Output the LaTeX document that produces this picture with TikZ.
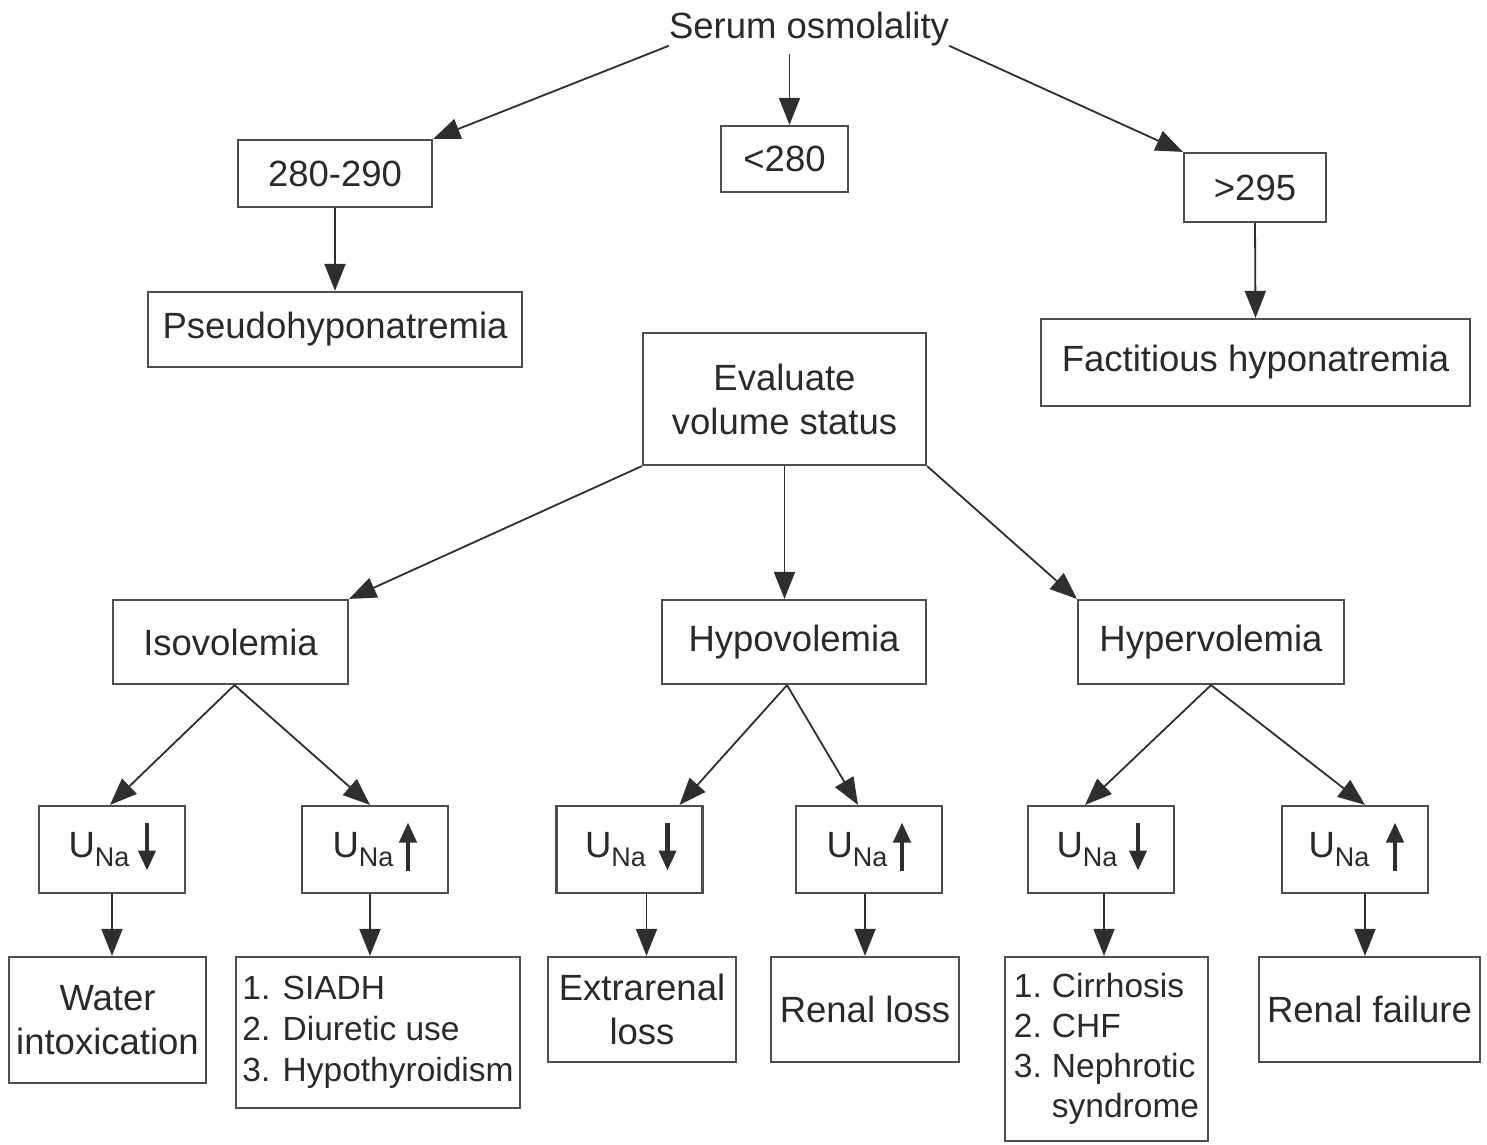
\documentclass[tikz,border=0pt]{standalone}
\usepackage{fontspec}
\setmainfont{Liberation Sans}
\usetikzlibrary{arrows.meta}
\definecolor{inkline}{HTML}{2E2E2E}
\definecolor{boxline}{HTML}{4E4E4E}
\definecolor{inktext}{HTML}{2A2A2A}
\newcommand{\mainsize}{\fontsize{36.5}{44}\selectfont}
\newcommand{\listsize}{\fontsize{33.5}{41}\selectfont}
\newcommand{\una}{U\raisebox{-9pt}{\fontsize{27}{30}\selectfont Na}}
\begin{document}
\begin{tikzpicture}[x=1pt,y=-1pt,
  every node/.style={text=inktext, font=\mainsize},
  box/.style={draw=boxline, line width=2.2pt, inner sep=0pt, align=center},
  listbox/.style={box, align=left, font=\listsize},
  conn/.style={draw=inkline, line width=1.8pt, -{Triangle[length=27pt,width=21pt]}},
  unaarrow/.style={draw=inkline, line width=4.2pt, -{Triangle[length=20pt,width=17pt]}},
  unabox/.style={box, minimum width=146pt, minimum height=87pt}]
\useasboundingbox (0,0) rectangle (1487,1144);

% top level
\node[inner sep=0pt, anchor=base] (so) at (809,38) {Serum osmolality};
\node[box, minimum width=194pt, minimum height=67pt] (p1) at (335,173.5) {280-290};
\node[box, minimum width=127pt, minimum height=66pt] (lt) at (784.5,159) {<280};
\node[box, minimum width=142pt, minimum height=69pt] (g1) at (1255,187.5) {>295};
\node[box, minimum width=374pt, minimum height=75pt] (pseudo) at (335,329.5) {Pseudohyponatremia};
\node[box, minimum width=429pt, minimum height=87pt] (fact) at (1255.5,362.5) {Factitious hyponatremia};
\node[box, minimum width=283pt, minimum height=132pt] (ev) at (784.5,399) {Evaluate\\volume status};

% volume status
\node[box, minimum width=235pt, minimum height=84pt] (iso) at (230.5,642) {Isovolemia};
\node[box, minimum width=264pt, minimum height=84pt] (hypo) at (794,642) {Hypovolemia};
\node[box, minimum width=266pt, minimum height=84pt] (hyper) at (1211,642) {Hypervolemia};

% urinary sodium
\node[unabox] (u1) at (112,849.5) {\una\hspace{26pt}};
\node[unabox] (u2) at (375,849.5) {\una\hspace{24pt}};
\node[unabox] (u3) at (629.5,849.5) {\una\hspace{28pt}};
\node[unabox] (u4) at (869,849.5) {\una\hspace{24pt}};
\node[unabox] (u5) at (1101,849.5) {\una\hspace{28pt}};
\node[unabox] (u6) at (1355,849.5) {\una\hspace{32pt}};

\draw[unaarrow] ([xshift=35pt,yshift=27pt]u1.center) -- ([xshift=35pt,yshift=-21pt]u1.center);
\draw[unaarrow] ([xshift=33pt,yshift=-21pt]u2.center) -- ([xshift=33pt,yshift=27pt]u2.center);
\draw[unaarrow] ([xshift=38pt,yshift=27pt]u3.center) -- ([xshift=38pt,yshift=-21pt]u3.center);
\draw[unaarrow] ([xshift=33pt,yshift=-21pt]u4.center) -- ([xshift=33pt,yshift=27pt]u4.center);
\draw[unaarrow] ([xshift=37pt,yshift=27pt]u5.center) -- ([xshift=37pt,yshift=-21pt]u5.center);
\draw[unaarrow] ([xshift=40pt,yshift=-21pt]u6.center) -- ([xshift=40pt,yshift=27pt]u6.center);

% causes
\node[box, minimum width=197pt, minimum height=126pt] (w1) at (107.5,1020) {Water\\intoxication};
\node[listbox, minimum width=284pt, minimum height=151pt] (l1) at (378,1032.5)
  {1. SIADH\\2. Diuretic use\\3. Hypothyroidism};
\node[box, minimum width=188pt, minimum height=105pt] (er) at (642,1009.5) {Extrarenal\\loss};
\node[box, minimum width=188pt, minimum height=105pt] (rl) at (865,1009.5) {Renal loss};
\node[listbox, minimum width=203pt, minimum height=184pt] (l2) at (1106.5,1049)
  {\begin{tabular}{@{}l@{\hspace{0.3em}}l@{}}1. & Cirrhosis\\[-1pt] 2. & CHF\\[-1pt] 3. & Nephrotic\\[-1pt] & syndrome\end{tabular}};
\node[box, minimum width=221pt, minimum height=105pt] (rf) at (1369.5,1009.5) {Renal failure};

% connectors
\draw[conn] (so.south west) -- (p1.north east);
\draw[conn, shorten <=8pt] ([xshift=5pt]lt.north |- so.south) -- ([xshift=5pt]lt.north);
\draw[conn] (so.south east) -- (g1.north west);
\draw[conn] (p1.south) -- (pseudo.north);
\draw[conn] (g1.south) -- (fact.north);

\draw[conn] (ev.south west) -- (iso.north east);
\draw[conn] (ev.south) -- (ev.south |- hypo.north);
\draw[conn] (ev.south east) -- (hyper.north west);

\draw[conn] ([xshift=4pt]iso.south) -- ([xshift=-2pt]u1.north);
\draw[conn] ([xshift=4pt]iso.south) -- ([xshift=-5pt]u2.north);
\draw[conn] ([xshift=-7pt]hypo.south) -- ([xshift=50pt]u3.north);
\draw[conn] ([xshift=-7pt]hypo.south) -- ([xshift=-11pt]u4.north);
\draw[conn] (hyper.south) -- ([xshift=-16pt]u5.north);
\draw[conn] (hyper.south) -- ([xshift=10pt]u6.north);

\draw[conn] (u1.south) -- (u1.south |- w1.north);
\draw[conn] ([xshift=-5pt]u2.south) -- ([xshift=-5pt]u2.south |- l1.north);
\draw[conn] ([xshift=17pt]u3.south) -- ([xshift=17pt]u3.south |- er.north);
\draw[conn] ([xshift=-4pt]u4.south) -- ([xshift=-4pt]u4.south |- rl.north);
\draw[conn] ([xshift=3pt]u5.south) -- ([xshift=3pt]u5.south |- l2.north);
\draw[conn] ([xshift=10pt]u6.south) -- ([xshift=10pt]u6.south |- rf.north);
\end{tikzpicture}
\end{document}
